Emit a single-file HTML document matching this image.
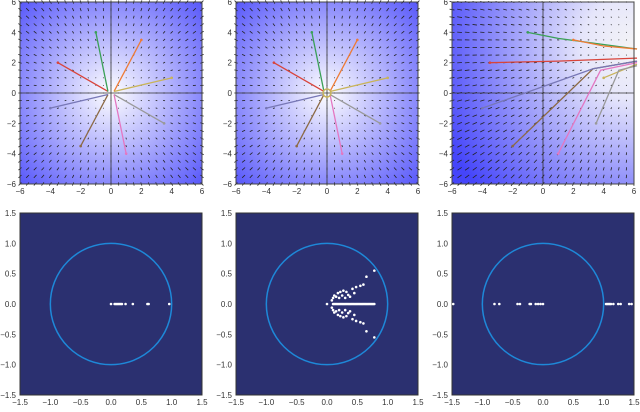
<!DOCTYPE html>
<html><head><meta charset="utf-8"><style>
body{margin:0;background:#fff;width:640px;height:407px;overflow:hidden}
svg text{font-family:"Liberation Sans",sans-serif;font-size:8px;fill:#333}
</style></head><body>
<svg id="s" width="640" height="407" xmlns="http://www.w3.org/2000/svg">
<defs>
<radialGradient id="rg" cx="50%" cy="50%" r="75%">
<stop offset="0" stop-color="#ffffff"/><stop offset="1" stop-color="#4d4dfa"/></radialGradient>
<radialGradient id="rg3" cx="100%" cy="25%" r="115%">
<stop offset="0" stop-color="#f4f4f6"/><stop offset="0.25" stop-color="#e6e6fb"/><stop offset="1" stop-color="#4545fa"/></radialGradient>
</defs>
</svg>
<script>
const s=document.getElementById('s');let h='';
const X=[20,236,452],W=182,TY=2,BY=213;
const starts=[[-3.5,2,'#d9443a'],[-1,4,'#3aa056'],[2,3.5,'#ee7b35'],[4,1,'#c9b45a'],[3.5,-2,'#999'],[1,-4,'#e477c2'],[-2,-3.5,'#8c6a45'],[-4,-1,'#7777b6']];
for(let p=0;p<3;p++){
 const x0=X[p],sc=W/12,cx=x0+W/2,cy=TY+W/2;
 const mx=v=>cx+v*sc,my=v=>cy-v*sc;
 h+=`<rect x="${x0}" y="${TY}" width="${W}" height="${W}" fill="url(#${p==2?'rg3':'rg'})"/>`;
 for(let i=0;i<25;i++)for(let j=0;j<25;j++){
  const gx=-6+i*0.5,gy=-6+j*0.5;let dx,dy;
  if(p<2){dx=-gx;dy=-gy;}else{dx=(6.5-gx);dy=(3-gy);}
  let L=Math.hypot(dx,dy)||1;let len=p<2?Math.min(L*0.55,4):Math.min(L*0.4,5);
  len=Math.max(len,0.8);
  const ux=dx/L*len,uy=dy/L*len;
  const px=mx(gx),py=my(gy);
  h+=`<line x1="${px-ux/2}" y1="${py+uy/2}" x2="${px+ux/2}" y2="${py-uy/2}" stroke="#222" stroke-width="0.8"/>`;
 }
 h+=`<line x1="${x0}" y1="${cy}" x2="${x0+W}" y2="${cy}" stroke="#333" stroke-width="0.8"/><line x1="${cx}" y1="${TY}" x2="${cx}" y2="${TY+W}" stroke="#333" stroke-width="0.8"/>`;
 starts.forEach((st,k)=>{
  let ex,ey;
  if(p<2){ex=0.2*Math.sign(st[0]);ey=0.1*Math.sign(st[1]);}else{ex=6.2;ey=[2.3,2.9,2.9,1.9,1.8,2.0,2.1,2.1][k];}
  let pts=`${mx(st[0])},${my(st[1])} `;
  if(p==2){const mids=[[1,2.1],[1,3.6],[4,3.1],[4,1],[5,1.5],[3.8,1.5],[3.3,1.6],[3.3,1.6]];pts+=`${mx(mids[k][0])},${my(mids[k][1])} `;}
  pts+=`${mx(ex)},${my(ey)}`;
  h+=`<polyline points="${pts}" fill="none" stroke="${st[2]}" stroke-width="1.3"/><circle cx="${mx(st[0])}" cy="${my(st[1])}" r="1.3" fill="${st[2]}"/>`;
 });
 if(p==1)h+=`<circle cx="${cx}" cy="${cy}" r="4" fill="none" stroke="#c9b45a" stroke-width="1.5"/>`;
 h+=`<rect x="${x0}" y="${TY}" width="${W}" height="${W}" fill="none" stroke="#444" stroke-width="1"/>`;
 for(let v=-6;v<=6;v+=2){h+=`<text x="${mx(v)}" y="${TY+W+10}" text-anchor="middle">${v<0?'−'+(-v):v}</text>`;h+=`<text x="${x0-4}" y="${my(v)+3}" text-anchor="end">${v<0?'−'+(-v):v}</text>`;}
 const bs=W/3,bcx=x0+W/2,bcy=BY+W/2;const bx=v=>bcx+v*bs,by=v=>bcy-v*bs;
 h+=`<rect x="${x0}" y="${BY}" width="${W}" height="${W}" fill="#2b3070" stroke="#333" stroke-width="1"/>`;
 h+=`<circle cx="${bcx}" cy="${bcy}" r="${bs}" fill="none" stroke="#1e88d8" stroke-width="1.5"/>`;
 let dots=[];
 if(p==0)dots=[0,0.06,0.08,0.1,0.12,0.14,0.16,0.18,0.24,0.36,0.6,0.62,0.96].map(v=>[v,0]);
 if(p==2)dots=[-1.48,-0.8,-0.72,-0.42,-0.38,-0.22,-0.2,-0.12,-0.08,-0.04,0,1.04,1.06,1.08,1.1,1.12,1.16,1.24,1.28,1.42,1.46].map(v=>[v,0]);
 if(p==1){for(let v=0.1;v<=0.8;v+=0.02)dots.push([v,0]);
  [[0.08,0.06],[0.1,0.1],[0.12,0.14],[0.15,0.12],[0.18,0.18],[0.22,0.2],[0.27,0.22],[0.32,0.2],[0.35,0.15],[0.42,0.25],[0.45,0.18],[0.48,0.28],[0.55,0.3],[0.6,0.32],[0.65,0.45],[0.78,0.55],[0.2,0.1],[0.25,0.14],[0.3,0.1],[0.38,0.12]].forEach(d=>{dots.push(d);dots.push([d[0],-d[1]]);});
  dots.push([0,0]);}
 dots.forEach(d=>h+=`<circle cx="${bx(d[0])}" cy="${by(d[1])}" r="1.3" fill="#fff"/>`);
 for(let v=-1.5;v<=1.51;v+=0.5){const t=(v<0?'−':'')+Math.abs(v).toFixed(1);h+=`<text x="${bx(v)}" y="${BY+W+10}" text-anchor="middle">${t}</text>`;h+=`<text x="${x0-4}" y="${by(v)+3}" text-anchor="end">${t}</text>`;}
}
s.insertAdjacentHTML('beforeend',h);
</script>
</body></html>
